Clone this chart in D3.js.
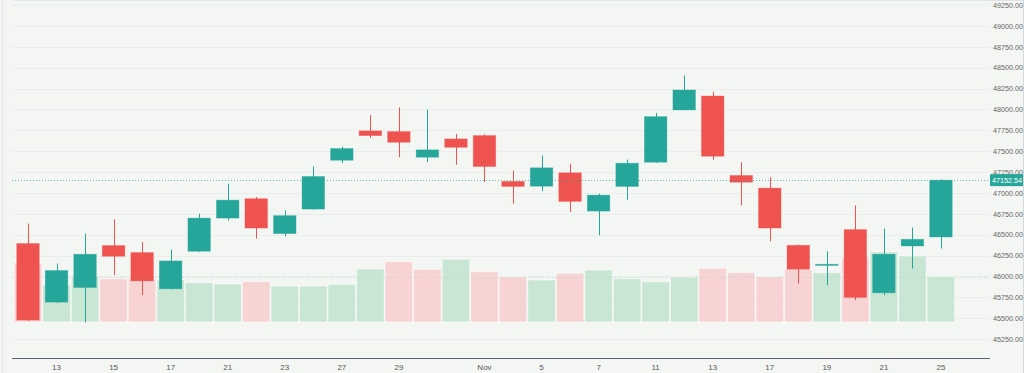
<!DOCTYPE html>
<html><head><meta charset="utf-8">
<script src="https://cdn.jsdelivr.net/npm/d3@7"></script>
<style>html,body{margin:0;padding:0;background:#f4f6f4;}svg{display:block;font-family:"Liberation Sans",Arial,sans-serif;}</style>
</head><body><svg id="c" width="1024" height="373"></svg>
<script>
const days = ["Oct 12","Oct 13","Oct 14","Oct 15","Oct 16","Oct 17","Oct 20","Oct 21","Oct 22","Oct 23","Oct 24","Oct 27","Oct 28","Oct 29","Oct 30","Oct 31","Nov 1","Nov 4","Nov 5","Nov 6","Nov 7","Nov 8","Nov 11","Nov 12","Nov 13","Nov 14","Nov 17","Nov 18","Nov 19","Nov 20","Nov 21","Nov 22","Nov 25"];
const open  = [46393,45692,45867,46369,46285,45851,46301,46698,46930,46512,46806,47391,47742,47734,47427,47646,47686,47137,47080,47240,46782,47077,47367,47993,48160,47208,47057,46372,46138,46560,45803,46364,46472];
const high  = [46632,46154,46512,46683,46412,46321,46751,47109,46950,46790,47316,47555,47933,48024,47996,47706,47700,47268,47447,47348,46990,47399,47957,48406,48211,47367,47188,46380,46301,46850,46572,46584,47160];
const low   = [45465,45680,45450,46014,45775,45845,46295,46671,46452,46480,46800,47355,47658,47427,47367,47336,47128,46870,47021,46770,46492,46918,47360,47990,47396,46850,46420,45915,45895,45716,45775,46094,46333];
const close = [45477,46070,46265,46241,45946,46185,46698,46913,46579,46727,47196,47531,47686,47606,47515,47546,47316,47077,47300,46898,46973,47355,47913,48232,47439,47128,46579,46086,46145,45748,46265,46444,47152.54];
const volume = [5870,3670,4530,4330,4330,4200,3930,3800,4030,3600,3600,3770,5300,6030,5270,6270,5030,4530,4200,4870,5200,4330,4030,4470,5370,4930,4530,5270,4930,6470,7000,6600,4530];
const volumeUp = [0,1,1,0,0,1,1,1,0,1,1,1,1,0,0,1,0,0,1,0,1,1,1,1,0,0,0,0,1,0,1,1,1];
const tickIndex = [1,3,5,7,9,11,13,16,18,20,22,24,26,28,30,32];
const tickLabels = ["13","15","17","21","23","27","29","Nov","5","7","11","13","17","19","21","25"];
const priceTicks = [45250,45500,45750,46000,46250,46500,46750,47000,47250,47500,47750,48000,48250,48500,48750,49000,49250];

const GREEN="#26a69a", RED="#ef5350", VGREEN="#c8e6d3", VRED="#f7d3d3";
const svg = d3.select("#c");
const idx = d3.range(days.length);
const step = 28.53;
const x = d3.scaleBand().domain(idx).range([28 - step/2, 28 - step/2 + step*days.length]).padding(0);
const y = d3.scaleLinear().domain([45250, 49250]).range([339, 5]);
const yv = d3.scaleLinear().domain([0, 10000]).range([322, 222]);
const cx = i => x(i) + x.bandwidth()/2;
const right = 990, left = 12;

// borders
svg.append("line").attr("x1",2.5).attr("x2",2.5).attr("y1",0).attr("y2",373).attr("stroke","#e2e5e3");
svg.append("line").attr("x1",14).attr("x2",1024).attr("y1",0.5).attr("y2",0.5).attr("stroke","#e0e3e8");
svg.append("line").attr("x1",1023.5).attr("x2",1023.5).attr("y1",0).attr("y2",373).attr("stroke","#d6d9d8");

// grid
svg.append("g").selectAll("line").data(priceTicks).join("line")
  .attr("x1",left).attr("x2",right).attr("y1",d=>Math.round(y(d))+0.5).attr("y2",d=>Math.round(y(d))+0.5)
  .attr("stroke","#eaedeb").attr("stroke-width",1);

// volume bars
svg.append("g").selectAll("rect").data(idx).join("rect")
  .attr("x",i=>x(i)+0.5).attr("width",x.bandwidth()-1)
  .attr("y",i=>yv(volume[i])).attr("height",i=>yv(0)-yv(volume[i]))
  .attr("fill",i=>volumeUp[i]?VGREEN:VRED)
  .attr("stroke","rgba(255,255,255,0.5)").attr("stroke-width",1);

// last volume line
const lv = Math.round(yv(volume[volume.length-1]))+0.5;
svg.append("line").attr("x1",left).attr("x2",right).attr("y1",lv).attr("y2",lv)
  .attr("stroke","#b9dcc6").attr("stroke-dasharray","1,2");

// wicks
const isUp = i => close[i] >= open[i];
svg.append("g").selectAll("line").data(idx).join("line")
  .attr("x1",i=>Math.round(cx(i))+0.5).attr("x2",i=>Math.round(cx(i))+0.5)
  .attr("y1",i=>y(high[i])).attr("y2",i=>y(low[i]))
  .attr("stroke",i=>isUp(i)?GREEN:RED).attr("stroke-width",1);

// bodies
const bw = 22.5;
svg.append("g").selectAll("rect").data(idx).join("rect")
  .attr("x",i=>cx(i)-bw/2).attr("width",bw)
  .attr("y",i=>y(Math.max(open[i],close[i])))
  .attr("height",i=>Math.max(1.2, Math.abs(y(open[i])-y(close[i]))))
  .attr("fill",i=>isUp(i)?GREEN:RED)
  .attr("stroke",i=>isUp(i)?"rgba(38,166,154,0.45)":"rgba(239,83,80,0.45)").attr("stroke-width",0.8);

// last price line
const lastP = close[close.length-1];
const ly = Math.round(y(lastP))+0.5;
svg.append("line").attr("x1",left).attr("x2",right).attr("y1",ly).attr("y2",ly)
  .attr("stroke",GREEN).attr("stroke-opacity",0.7).attr("stroke-dasharray","1,2");

// bottom axis
const xAxis = d3.axisBottom(x).tickValues(tickIndex).tickSize(0)
  .tickFormat(i => tickLabels[tickIndex.indexOf(i)]);
const gx = svg.append("g").attr("transform","translate(0,358)").call(xAxis);
gx.select(".domain").remove();
gx.selectAll("text").attr("dy",0).attr("y",12).attr("font-size",8).attr("fill","#555").attr("font-family","Liberation Sans, Arial, sans-serif");
svg.append("line").attr("x1",left).attr("x2",right).attr("y1",358.5).attr("y2",358.5).attr("stroke","#5d6070").attr("stroke-width",1);

// right axis
const yAxis = d3.axisRight(y).tickValues(priceTicks).tickSize(0).tickFormat(d3.format(".2f"));
const gy = svg.append("g").attr("transform","translate(993,0)").call(yAxis);
gy.select(".domain").remove();
gy.selectAll("text").attr("x",0).attr("font-size",7.2).attr("fill","#666").attr("font-family","Liberation Sans, Arial, sans-serif");

// last price label
svg.append("rect").attr("x",990).attr("y",y(lastP)-6).attr("width",33).attr("height",12).attr("fill",GREEN);
svg.append("text").attr("x",992).attr("y",y(lastP)+2.6).attr("font-size",7.2).attr("fill","#fff").text(d3.format(".2f")(lastP));
</script></body></html>
